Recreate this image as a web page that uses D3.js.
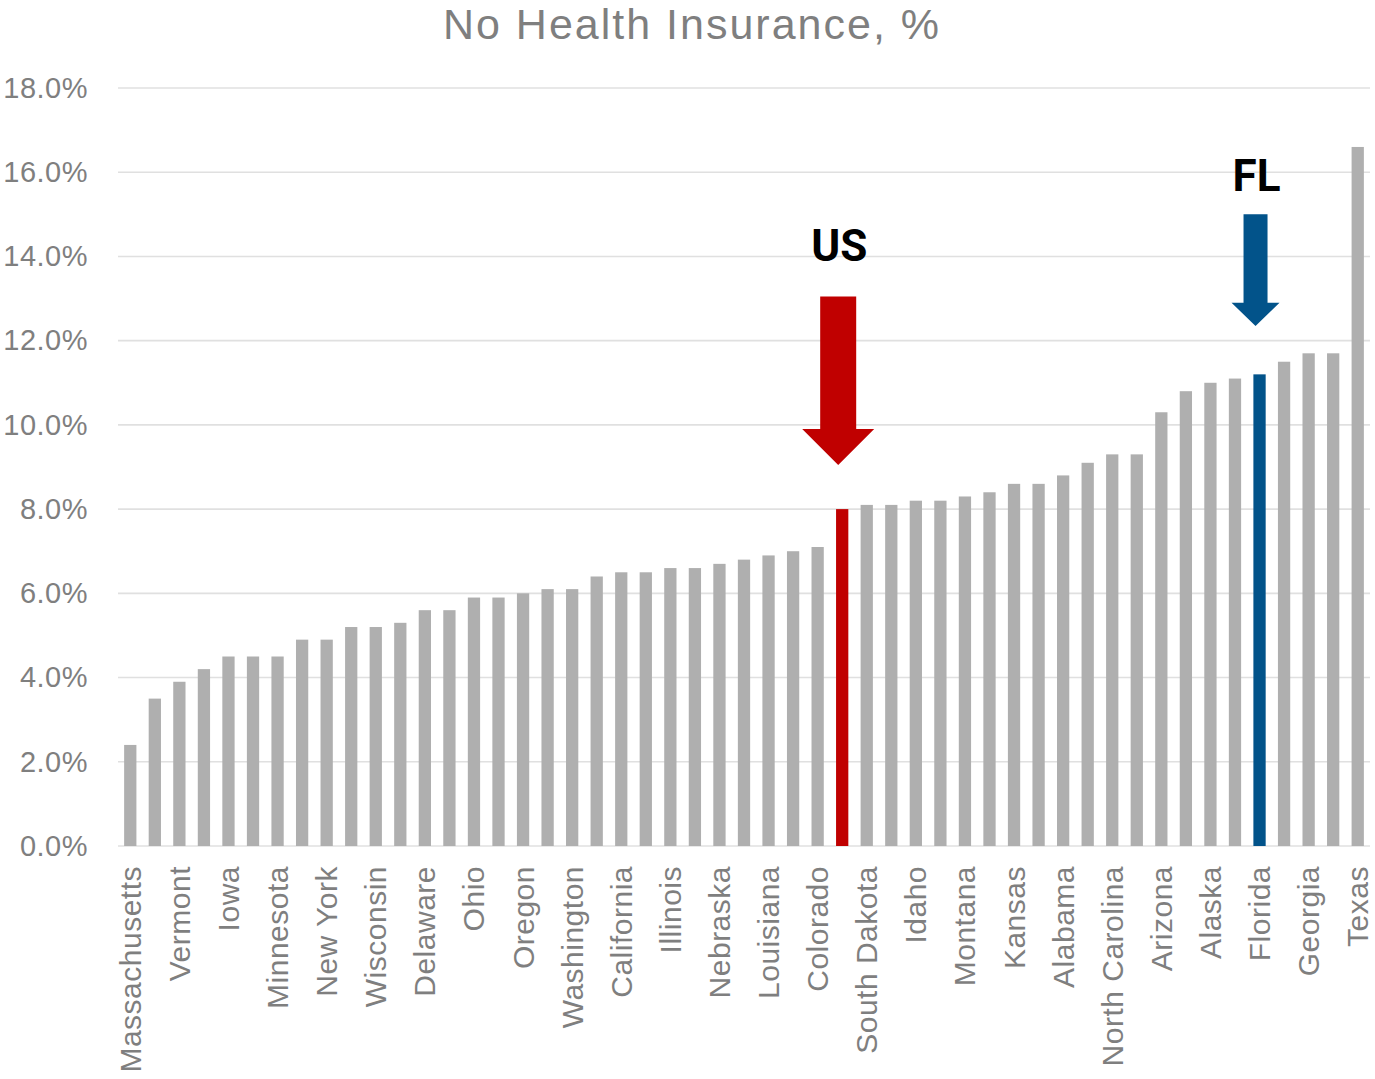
<!DOCTYPE html>
<html>
<head>
<meta charset="utf-8">
<script src="https://cdn.jsdelivr.net/npm/d3@7"></script>
<style>
  html, body { margin: 0; padding: 0; background: #ffffff; }
  svg { display: block; }
</style>
</head>
<body>
<svg id="chart" width="1375" height="1079"></svg>
<script>
const states = [
  "Massachusetts","Hawaii","Vermont","Rhode Island","Iowa","New Hampshire","Minnesota","Michigan",
  "New York","Pennsylvania","Wisconsin","Connecticut","Delaware","Maryland","Ohio","Kentucky",
  "Oregon","Maine","Washington","New Jersey","California","West Virginia","Illinois","North Dakota",
  "Nebraska","Virginia","Louisiana","Utah","Colorado","US","South Dakota","Indiana",
  "Idaho","Missouri","Montana","Arkansas","Kansas","South Carolina","Alabama","Tennessee",
  "North Carolina","New Mexico","Arizona","Mississippi","Alaska","Nevada","Florida","Wyoming",
  "Georgia","Oklahoma","Texas"
];
const uninsured = [
  2.4, 3.5, 3.9, 4.2, 4.5, 4.5, 4.5, 4.9,
  4.9, 5.2, 5.2, 5.3, 5.6, 5.6, 5.9, 5.9,
  6.0, 6.1, 6.1, 6.4, 6.5, 6.5, 6.6, 6.6,
  6.7, 6.8, 6.9, 7.0, 7.1, 8.0, 8.1, 8.1,
  8.2, 8.2, 8.3, 8.4, 8.6, 8.6, 8.8, 9.1,
  9.3, 9.3, 10.3, 10.8, 11.0, 11.1, 11.2, 11.5,
  11.7, 11.7, 16.6
];
const yTicks = [0, 2, 4, 6, 8, 10, 12, 14, 16, 18];
const highlightNames = ["US", "Florida"];
const highlightColors = ["#C00000", "#02538A"];
const arrowLabels = ["US", "FL"];
const arrowTargets = ["US", "Florida"];
const arrowShaftTop = [13.05, 15.0];
const arrowHeadBase = [9.9, 12.9];
const arrowTip = [9.05, 12.35];
const arrowLabelBase = [13.9, 15.55];
const title = "No Health Insurance, %";

const svg = d3.select("#chart");
const plotLeft = 118, plotRight = 1370, plotTop = 88, plotBottom = 846;

const x = d3.scaleBand().domain(states).range([plotLeft, plotRight]).paddingInner(0.5).paddingOuter(0.25);
const y = d3.scaleLinear().domain([0, 18]).range([plotBottom, plotTop]);

const font = "'Liberation Sans', Arial, sans-serif";

// Title
svg.append("text")
  .attr("x", 692).attr("y", 39)
  .attr("text-anchor", "middle")
  .attr("font-family", font).attr("font-size", 43)
  .attr("letter-spacing", 2)
  .attr("fill", "#7f7f7f")
  .text(title);

// Gridlines
svg.append("g").selectAll("line").data(yTicks).join("line")
  .attr("x1", plotLeft).attr("x2", plotRight)
  .attr("y1", d => y(d)).attr("y2", d => y(d))
  .attr("stroke", "#e0e0e0").attr("stroke-width", 1.6);

// Y axis
const yAxis = d3.axisLeft(y).tickValues(yTicks).tickSize(0).tickPadding(0)
  .tickFormat(d => d.toFixed(1) + "%");
const yg = svg.append("g").attr("transform", "translate(88,0)").call(yAxis);
yg.select(".domain").remove();
yg.selectAll("text").attr("font-family", font).attr("font-size", 29)
  .attr("letter-spacing", 0.5).attr("fill", "#7f7f7f");

// Bars
const colorOf = name => {
  const i = highlightNames.indexOf(name);
  return i >= 0 ? highlightColors[i] : "#afafaf";
};
svg.append("g").selectAll("rect").data(states).join("rect")
  .attr("x", d => x(d))
  .attr("width", x.bandwidth())
  .attr("y", (d, i) => y(uninsured[i]))
  .attr("height", (d, i) => y(0) - y(uninsured[i]))
  .attr("fill", d => colorOf(d));

// X axis labels (every other category)
const xAxis = d3.axisBottom(x).tickSize(0).tickPadding(0)
  .tickValues(states.filter((d, i) => i % 2 === 0));
const xg = svg.append("g").attr("transform", `translate(0,${plotBottom})`).call(xAxis);
xg.select(".domain").remove();
xg.selectAll("text")
  .attr("font-family", font).attr("font-size", 30).attr("letter-spacing", 0.5)
  .attr("fill", "#7f7f7f")
  .attr("transform", "rotate(-90)")
  .attr("text-anchor", "end")
  .attr("x", -20).attr("y", 0).attr("dy", "0.35em");

// Arrows
arrowTargets.forEach((t, i) => {
  const cx = x(t) + x.bandwidth() / 2 - 4;
  const shaftHalf = i === 0 ? 18 : 12;
  const headHalf = i === 0 ? 36 : 24;
  const yTop = y(arrowShaftTop[i]), yBase = y(arrowHeadBase[i]), yTip = y(arrowTip[i]);
  const pts = [
    [cx - shaftHalf, yTop], [cx + shaftHalf, yTop], [cx + shaftHalf, yBase],
    [cx + headHalf, yBase], [cx, yTip], [cx - headHalf, yBase], [cx - shaftHalf, yBase]
  ];
  svg.append("path").attr("d", d3.line()(pts) + "Z").attr("fill", highlightColors[i]);
  svg.append("text")
    .attr("x", cx + 1).attr("y", y(arrowLabelBase[i]))
    .attr("text-anchor", "middle")
    .attr("font-family", "Roboto, 'Liberation Sans', sans-serif")
    .attr("font-weight", "bold").attr("font-size", 44)
    .attr("fill", "#000").text(arrowLabels[i]);
});
</script>
</body>
</html>
